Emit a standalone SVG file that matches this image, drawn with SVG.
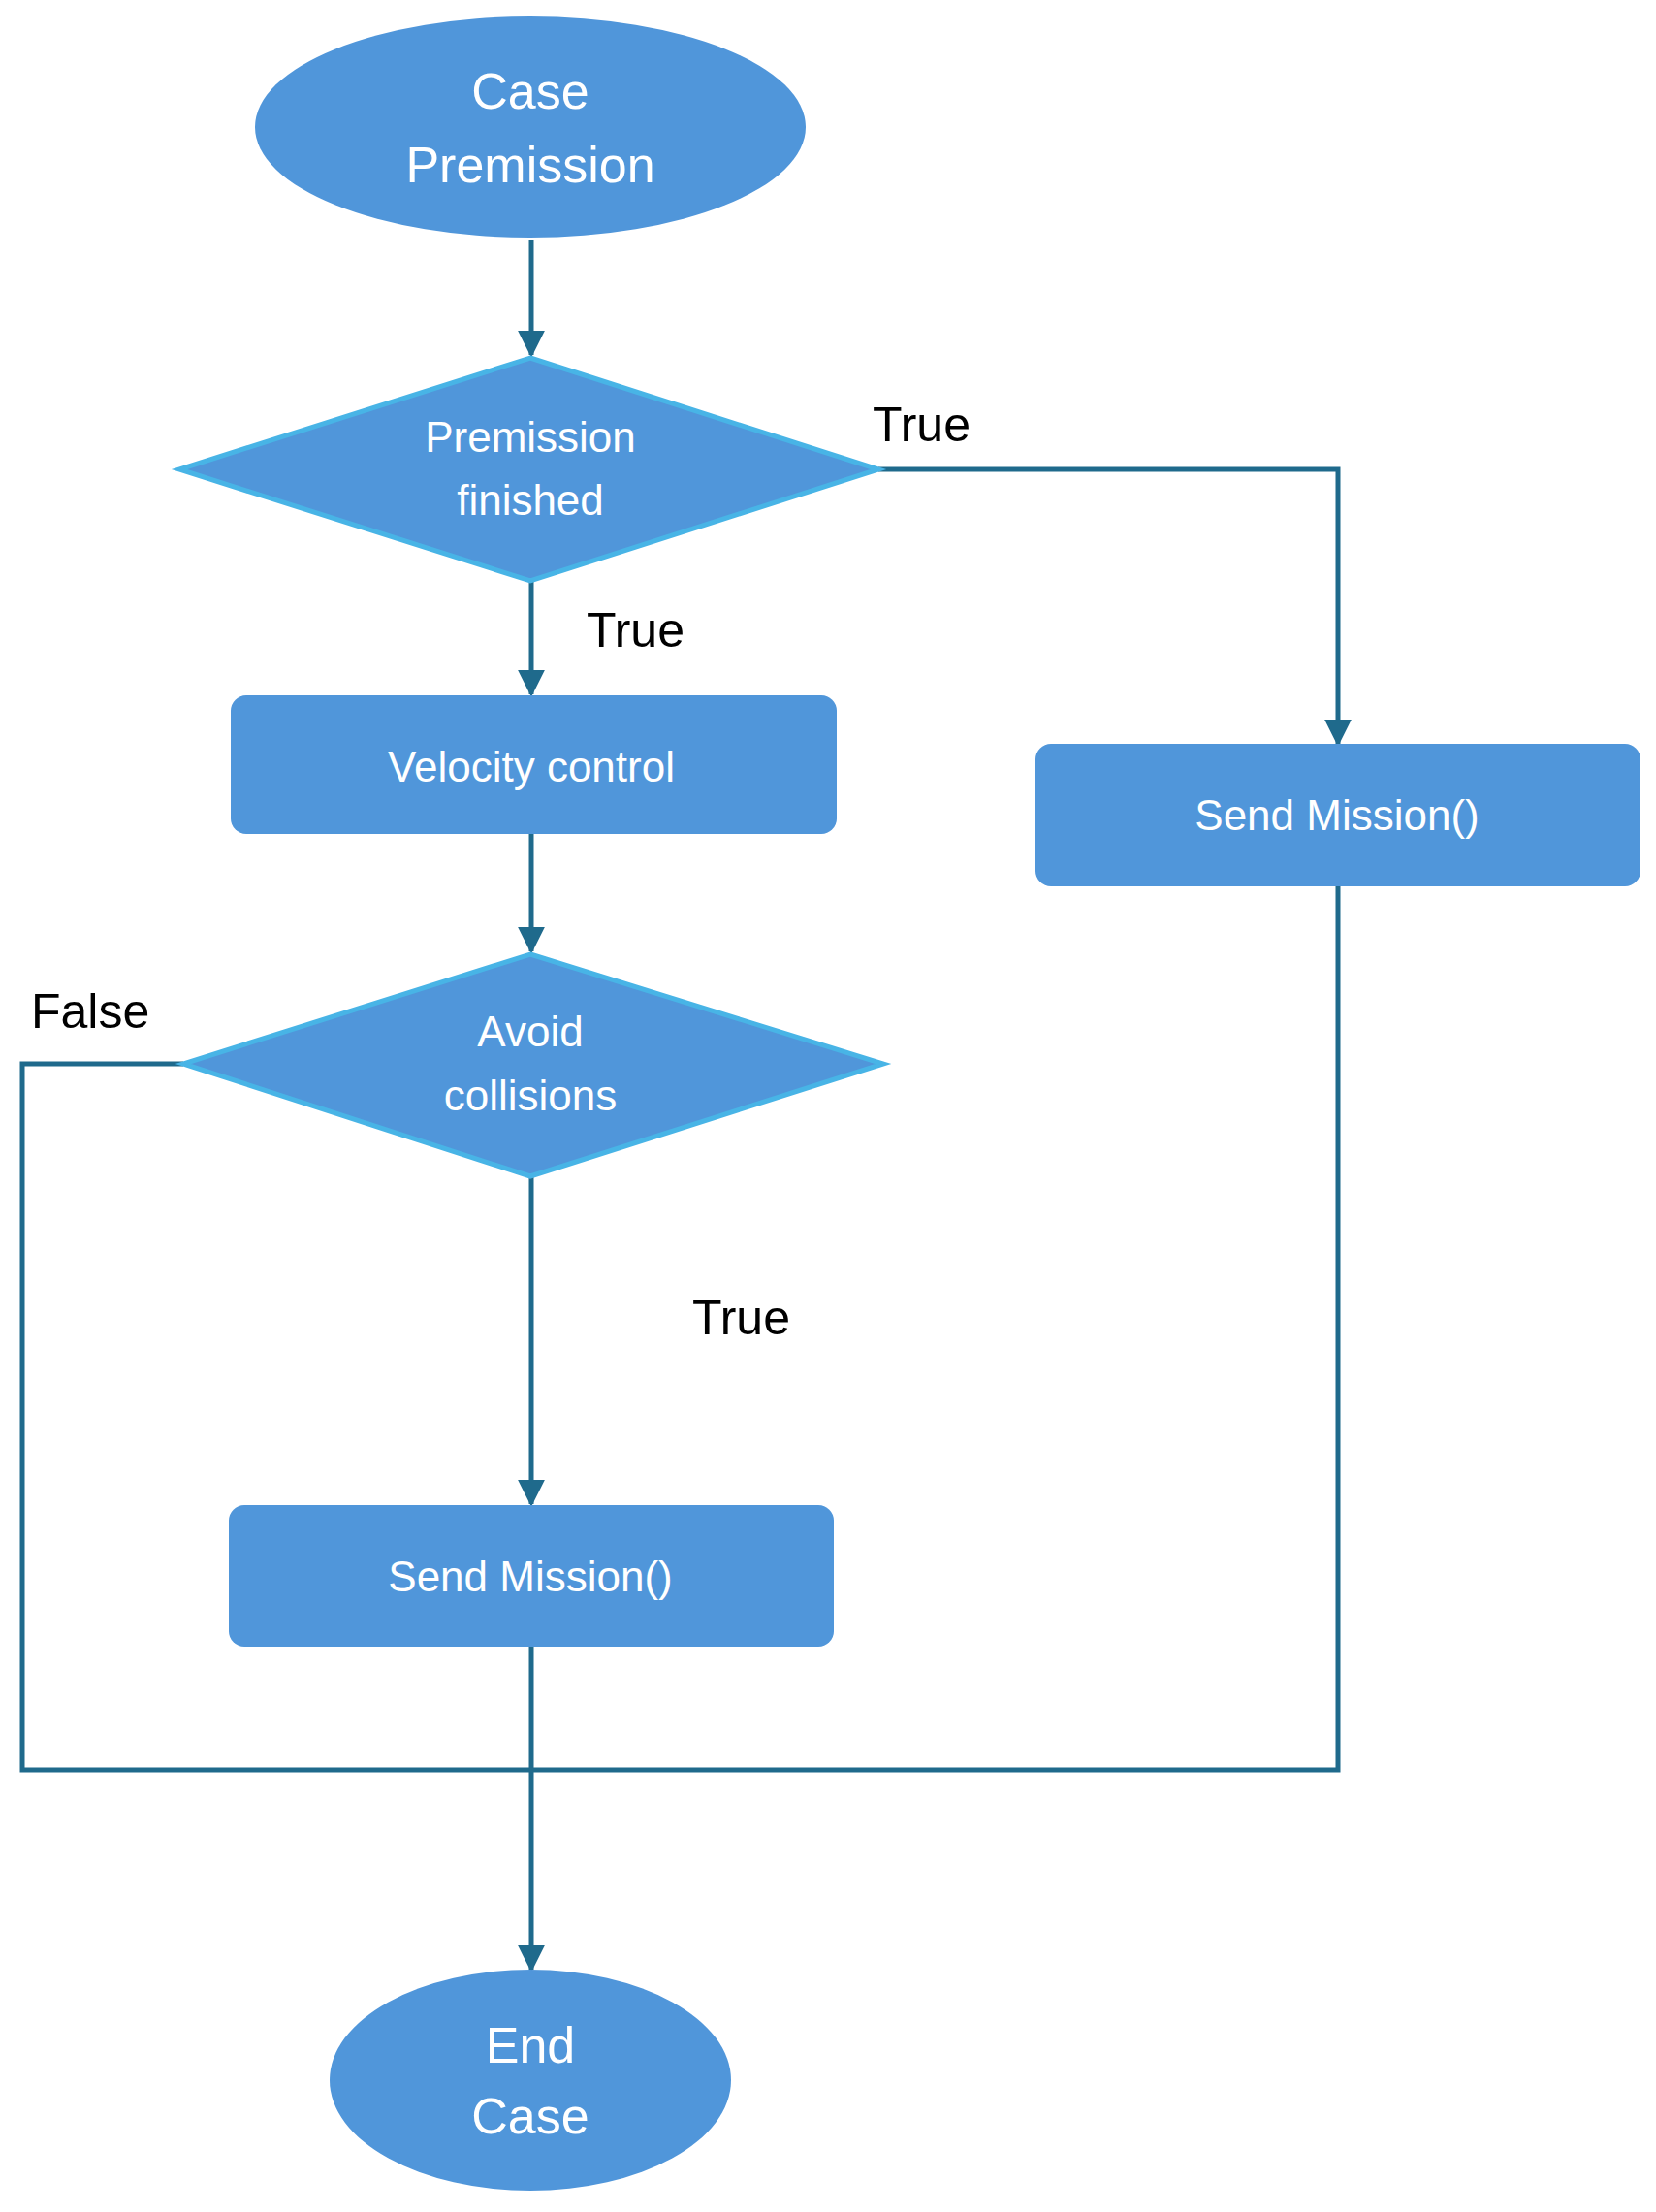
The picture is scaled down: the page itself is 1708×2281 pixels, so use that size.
<svg xmlns="http://www.w3.org/2000/svg" width="1708" height="2281" viewBox="0 0 1708 2281">
<style>
.n{fill:#5096DA}
.d{fill:#5096DA;stroke:#48B4E6;stroke-width:5}
.t{fill:#fff;font-family:"Liberation Sans",Arial,sans-serif;text-anchor:middle}
.l{fill:#000;font-family:"Liberation Sans",Arial,sans-serif;font-size:50px}
.c{fill:none;stroke:#1F6A8C;stroke-width:5}
</style>
<defs><marker id="a" markerWidth="10" markerHeight="10" refX="8" refY="5" orient="auto" markerUnits="userSpaceOnUse" viewBox="0 0 10 10"><path d="M0,0L10,5L0,10z" fill="#1F6A8C"/></marker>
<marker id="b" viewBox="0 0 10 10" refX="9" refY="5" markerWidth="28" markerHeight="28" markerUnits="userSpaceOnUse" orient="auto"><path d="M0,0L10,5L0,10z" fill="#1F6A8C"/></marker></defs>
<rect width="1708" height="2281" fill="#fff"/>
<g id="connectors">
<path class="c" d="M548,248V366" marker-end="url(#b)"/>
<path class="c" d="M906,484H1380V767" marker-end="url(#b)"/>
<path class="c" d="M548,599V716" marker-end="url(#b)"/>
<path class="c" d="M548,860V981" marker-end="url(#b)"/>
<path class="c" d="M548,1213V1551" marker-end="url(#b)"/>
<path class="c" d="M189,1097H23V1825H1380V914"/>
<path class="c" d="M548,1698V2031" marker-end="url(#b)"/>
<text class="l" x="900" y="455">True</text>
<text class="l" x="605" y="667">True</text>
<text class="l" x="32" y="1060">False</text>
<text class="l" x="714" y="1376">True</text>
</g>
<g id="start"><ellipse class="n" cx="547" cy="131" rx="284" ry="114"/><text class="t" font-size="52" x="547" y="112">Case</text><text class="t" font-size="52" x="547" y="188">Premission</text></g>
<g id="dec1"><polygon class="d" points="547,369 906,484 547,599 185,484"/><text class="t" font-size="44" x="547" y="466">Premission</text><text class="t" font-size="44" x="547" y="531">finished</text></g>
<g id="velocity"><rect class="n" x="238" y="717" width="625" height="143" rx="16"/><text class="t" font-size="44" x="548" y="806">Velocity control</text></g>
<g id="send1"><rect class="n" x="1068" y="767" width="624" height="147" rx="16"/><text class="t" font-size="44" x="1379" y="856">Send Mission()</text></g>
<g id="dec2"><polygon class="d" points="547,984 911,1097 547,1213 189,1097"/><text class="t" font-size="44" x="547" y="1079">Avoid</text><text class="t" font-size="44" x="547" y="1145">collisions</text></g>
<g id="send2"><rect class="n" x="236" y="1552" width="624" height="146" rx="16"/><text class="t" font-size="44" x="547" y="1641">Send Mission()</text></g>
<g id="end"><ellipse class="n" cx="547" cy="2145" rx="207" ry="114"/><text class="t" font-size="52" x="547" y="2127">End</text><text class="t" font-size="52" x="547" y="2200">Case</text></g>
</svg>
